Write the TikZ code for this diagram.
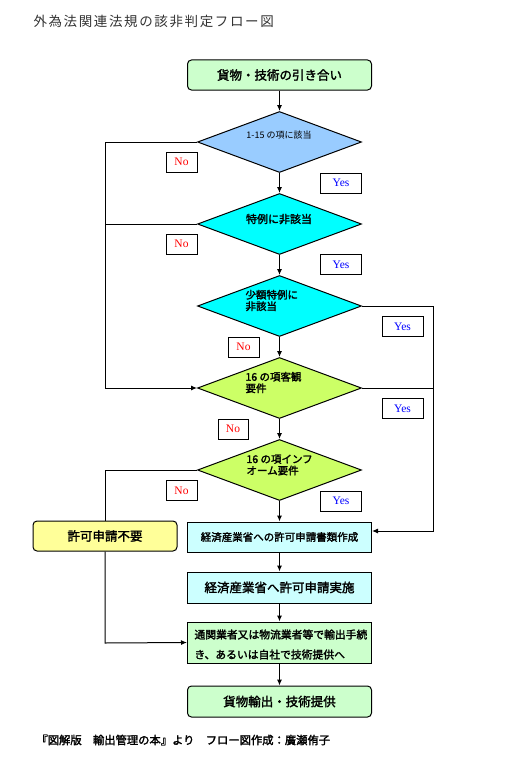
\documentclass[tikz,border=0pt]{standalone}
\usepackage{fontspec}
\usetikzlibrary{shapes.geometric,arrows.meta}
\newfontfamily\jp{Noto Sans CJK JP}[AutoFakeBold=2]
\newfontfamily\jptitle{Noto Sans CJK JP}[LetterSpace=12]
\newfontfamily\yn{Liberation Serif}
\definecolor{boxgreen}{HTML}{CCFFCC}
\definecolor{dblue}{HTML}{99CCFF}
\definecolor{dcyan}{HTML}{00FFFF}
\definecolor{dlime}{HTML}{CCFF66}
\definecolor{boxcyan}{HTML}{CCFFFF}
\definecolor{boxyellow}{HTML}{FFFF99}
\definecolor{titlegray}{HTML}{333333}
\tikzset{
  every path/.style={line width=1pt},
  arr/.style={-{Latex[length=6pt,width=5pt]}},
  rbox/.style={draw, rounded corners=4pt, minimum width=184pt, minimum height=30pt, inner sep=0pt, font=\jp\bfseries\fontsize{12.5}{14}\selectfont},
  sbox/.style={draw, minimum width=184pt, inner sep=0pt},
  dia/.style={draw, diamond, minimum width=164pt, minimum height=61pt, inner sep=0pt},
  dtext/.style={inner sep=0pt, align=left, font=\jp\bfseries\fontsize{10.5}{11.5}\selectfont},
  nolab/.style={draw, fill=white, minimum width=31pt, minimum height=20pt, inner sep=0pt, text=red, font=\yn\fontsize{11.5}{12}\selectfont},
  yeslab/.style={draw, fill=white, minimum width=41pt, minimum height=20pt, inner sep=0pt, text=blue, font=\yn\fontsize{11.5}{12}\selectfont},
}
\begin{document}
\begin{tikzpicture}[x=1pt,y=-1pt]
\useasboundingbox (0,0) rectangle (515,768);
\fill[white] (0,0) rectangle (515,768);

\node[anchor=west, inner sep=0pt, text=titlegray, font=\jptitle\fontsize{13.5}{15}\selectfont] (title) at (33,21) {外為法関連法規の該非判定フロー図};

\node[rbox, fill=boxgreen] (b1) at (279.5,75) {貨物・技術の引き合い};

\node[dia, fill=dblue] (d1) at (279.5,142) {};
\node[inner sep=0pt, font=\jp\fontsize{9}{10}\selectfont] (t1) at (279,135) {1-15 の項に該当};

\node[dia, fill=dcyan] (d2) at (279.5,224) {};
\node[dtext, font=\jp\bfseries\fontsize{11}{12}\selectfont] (t2) at (279,219) {特例に非該当};

\node[dia, fill=dcyan] (d3) at (279.5,306) {};
\node[dtext, anchor=west] (t3) at (245,300.5) {少額特例に\\非該当};

\node[dia, fill=dlime] (d4) at (279.5,388) {};
\node[dtext, anchor=west] (t4) at (245,382.5) {16 の項客観\\要件};

\node[dia, fill=dlime] (d5) at (279.5,470) {};
\node[dtext, anchor=west] (t5) at (246,465) {16 の項インフ\\オーム要件};

\node[sbox, fill=boxcyan, minimum height=30pt, font=\jp\bfseries\fontsize{10.5}{12}\selectfont] (b2) at (279.5,537) {経済産業省への許可申請書類作成};
\node[sbox, fill=boxcyan, minimum height=31pt, font=\jp\bfseries\fontsize{12.5}{14}\selectfont] (b3) at (279.5,587.5) {経済産業省へ許可申請実施};
\node[sbox, fill=boxgreen, minimum height=41pt] (b4) at (279.5,642.5) {};
\node[anchor=north west, inner sep=0pt, align=left, font=\jp\bfseries\fontsize{10.8}{20}\selectfont] (t6) at (194,629) {通関業者又は物流業者等で輸出手続\\き、あるいは自社で技術提供へ};
\node[rbox, fill=boxgreen, minimum height=31pt] (b5) at (279.5,701.5) {貨物輸出・技術提供};

\node[draw, fill=boxyellow, rounded corners=4pt, minimum width=144pt, minimum height=30pt, inner sep=0pt, font=\jp\bfseries\fontsize{12.5}{14}\selectfont] (nf) at (105,536) {許可申請不要};

% helper coordinates
\coordinate (l1) at (105,142);
\coordinate (l2) at (105,224);
\coordinate (l4) at (105,388);
\coordinate (l5) at (105,470);
\coordinate (l6) at (105,643);
\coordinate (r3) at (433,306);
\coordinate (r4) at (433,388);
\coordinate (r6) at (433,531);
\coordinate (b2r) at (372,531);

% main vertical flow
\draw[arr] (b1.south) -- (d1.north);
\draw[arr] (d1.south) -- (d2.north);
\draw[arr] (d2.south) -- (d3.north);
\draw[arr] (d3.south) -- (d4.north);
\draw[arr] (d4.south) -- (d5.north);
\draw[arr] (d5.south) -- (b2.north);
\draw[arr] (b2.south) -- (b3.north);
\draw[arr] (b3.south) -- (b4.north);
\draw[arr] (b4.south) -- (b5.north);

% left "No" bus
\draw[arr] (d1.west) -- (l1) -- (l4) -- (d4.west);
\draw (d2.west) -- (l2);
\draw (d5.west) -- (l5) -- (nf.north);
\draw[arr] (nf.south) -- (l6) -- (b4.west);

% right "Yes" bus
\draw (d3.east) -- (r3) -- (r4);
\draw (d4.east) -- (r4);
\draw[arr] (r4) -- (r6) -- (b2r);

% labels
\node[nolab] (n1) at (181.5,162) {No};
\node[yeslab] (y1) at (341,183) {Yes};
\node[nolab] (n2) at (181.5,244) {No};
\node[yeslab] (y2) at (341,264.5) {Yes};
\node[yeslab] (y3) at (402.5,326.5) {Yes};
\node[nolab] (n3) at (243.5,347) {No};
\node[yeslab] (y4) at (402.5,408.5) {Yes};
\node[nolab, minimum width=30pt] (n4) at (233,429) {No};
\node[nolab] (n5) at (181.5,490.5) {No};
\node[yeslab] (y5) at (341,501) {Yes};

\node[anchor=west, inner sep=0pt, font=\jp\bfseries\fontsize{11.3}{13}\selectfont] (foot) at (36,740) {『図解版　輸出管理の本』より　フロー図作成：廣瀬侑子};
\end{tikzpicture}
\end{document}
